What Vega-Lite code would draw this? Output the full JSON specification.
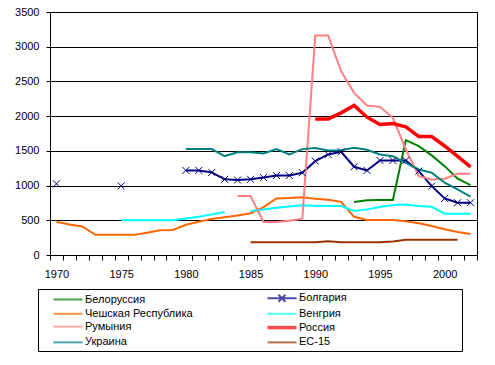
{
  "$schema": "https://vega.github.io/schema/vega-lite/v6.json",
  "width": 427,
  "height": 243,
  "autosize": {"type": "none"},
  "padding": {"left": 50, "top": 12, "right": 18, "bottom": 110},
  "background": "white",
  "config": {
    "view": {"stroke": "black", "strokeWidth": 1},
    "axis": {"labelFont": "Liberation Sans", "labelFontSize": 11, "labelColor": "black", "domainColor": "black", "tickColor": "black"},
    "legend": {"labelFont": "Liberation Sans", "labelFontSize": 11, "labelColor": "black"}
  },
  "data": {
    "values": [
      {"year": 1970, "Белоруссия": null, "Болгария": 1025, "Чешская Республика": 480, "Венгрия": null, "Румыния": null, "Россия": null, "Украина": null, "ЕС-15": null},
      {"year": 1971, "Белоруссия": null, "Болгария": null, "Чешская Республика": 440, "Венгрия": null, "Румыния": null, "Россия": null, "Украина": null, "ЕС-15": null},
      {"year": 1972, "Белоруссия": null, "Болгария": null, "Чешская Республика": 410, "Венгрия": null, "Румыния": null, "Россия": null, "Украина": null, "ЕС-15": null},
      {"year": 1973, "Белоруссия": null, "Болгария": null, "Чешская Республика": 290, "Венгрия": null, "Румыния": null, "Россия": null, "Украина": null, "ЕС-15": null},
      {"year": 1974, "Белоруссия": null, "Болгария": null, "Чешская Республика": 290, "Венгрия": null, "Румыния": null, "Россия": null, "Украина": null, "ЕС-15": null},
      {"year": 1975, "Белоруссия": null, "Болгария": 995, "Чешская Республика": 290, "Венгрия": 500, "Румыния": null, "Россия": null, "Украина": null, "ЕС-15": null},
      {"year": 1976, "Белоруссия": null, "Болгария": null, "Чешская Республика": 290, "Венгрия": 500, "Румыния": null, "Россия": null, "Украина": null, "ЕС-15": null},
      {"year": 1977, "Белоруссия": null, "Болгария": null, "Чешская Республика": 320, "Венгрия": 500, "Румыния": null, "Россия": null, "Украина": null, "ЕС-15": null},
      {"year": 1978, "Белоруссия": null, "Болгария": null, "Чешская Республика": 355, "Венгрия": 500, "Румыния": null, "Россия": null, "Украина": null, "ЕС-15": null},
      {"year": 1979, "Белоруссия": null, "Болгария": null, "Чешская Республика": 360, "Венгрия": 500, "Румыния": null, "Россия": null, "Украина": null, "ЕС-15": null},
      {"year": 1980, "Белоруссия": null, "Болгария": 1218, "Чешская Республика": 435, "Венгрия": 525, "Румыния": null, "Россия": null, "Украина": 1525, "ЕС-15": null},
      {"year": 1981, "Белоруссия": null, "Болгария": 1218, "Чешская Республика": 480, "Венгрия": 550, "Румыния": null, "Россия": null, "Украина": 1525, "ЕС-15": null},
      {"year": 1982, "Белоруссия": null, "Болгария": 1190, "Чешская Республика": 520, "Венгрия": 585, "Румыния": null, "Россия": null, "Украина": 1525, "ЕС-15": null},
      {"year": 1983, "Белоруссия": null, "Болгария": 1090, "Чешская Республика": 545, "Венгрия": 620, "Румыния": null, "Россия": null, "Украина": 1425, "ЕС-15": null},
      {"year": 1984, "Белоруссия": null, "Болгария": 1080, "Чешская Республика": 570, "Венгрия": null, "Румыния": 850, "Россия": null, "Украина": 1480, "ЕС-15": null},
      {"year": 1985, "Белоруссия": null, "Болгария": 1090, "Чешская Республика": 600, "Венгрия": 635, "Румыния": 850, "Россия": null, "Украина": 1480, "ЕС-15": 185},
      {"year": 1986, "Белоруссия": null, "Болгария": 1115, "Чешская Республика": 690, "Венгрия": 657, "Румыния": 475, "Россия": null, "Украина": 1462, "ЕС-15": 185},
      {"year": 1987, "Белоруссия": null, "Болгария": 1145, "Чешская Республика": 815, "Венгрия": 681, "Румыния": 475, "Россия": null, "Украина": 1525, "ЕС-15": 185},
      {"year": 1988, "Белоруссия": null, "Болгария": 1145, "Чешская Республика": 820, "Венгрия": 700, "Румыния": 495, "Россия": null, "Украина": 1450, "ЕС-15": 185},
      {"year": 1989, "Белоруссия": null, "Болгария": 1185, "Чешская Республика": 830, "Венгрия": 715, "Румыния": 523, "Россия": null, "Украина": 1525, "ЕС-15": 185},
      {"year": 1990, "Белоруссия": null, "Болгария": 1352, "Чешская Республика": 810, "Венгрия": 710, "Румыния": 3160, "Россия": 1960, "Украина": 1540, "ЕС-15": 185},
      {"year": 1991, "Белоруссия": null, "Болгария": 1448, "Чешская Республика": 795, "Венгрия": 705, "Румыния": 3160, "Россия": 1960, "Украина": 1506, "ЕС-15": 197},
      {"year": 1992, "Белоруссия": null, "Болгария": 1487, "Чешская Республика": 765, "Венгрия": 705, "Румыния": 2646, "Россия": 2047, "Украина": 1510, "ЕС-15": 185},
      {"year": 1993, "Белоруссия": 762, "Болгария": 1271, "Чешская Республика": 550, "Венгрия": 635, "Румыния": 2335, "Россия": 2153, "Украина": 1544, "ЕС-15": 185},
      {"year": 1994, "Белоруссия": 787, "Болгария": 1218, "Чешская Республика": 503, "Венгрия": 657, "Румыния": 2153, "Россия": 1985, "Украина": 1515, "ЕС-15": 185},
      {"year": 1995, "Белоруссия": 791, "Болгария": 1362, "Чешская Республика": 503, "Венгрия": 690, "Румыния": 2134, "Россия": 1880, "Украина": 1448, "ЕС-15": 185},
      {"year": 1996, "Белоруссия": 791, "Болгария": 1362, "Чешская Республика": 503, "Венгрия": 719, "Румыния": 1976, "Россия": 1894, "Украина": 1424, "ЕС-15": 195},
      {"year": 1997, "Белоруссия": 1654, "Болгария": 1362, "Чешская Республика": 485, "Венгрия": 729, "Румыния": 1520, "Россия": 1846, "Украина": 1328, "ЕС-15": 220},
      {"year": 1998, "Белоруссия": 1568, "Болгария": 1208, "Чешская Республика": 456, "Венгрия": 705, "Румыния": 1136, "Россия": 1705, "Украина": 1232, "ЕС-15": 220},
      {"year": 1999, "Белоруссия": 1435, "Болгария": 992, "Чешская Республика": 417, "Венгрия": 695, "Румыния": 1089, "Россия": 1705, "Украина": 1185, "ЕС-15": 220},
      {"year": 2000, "Белоруссия": 1280, "Болгария": 815, "Чешская Республика": 370, "Венгрия": 595, "Румыния": 1099, "Россия": 1570, "Украина": 1041, "ЕС-15": 220},
      {"year": 2001, "Белоруссия": 1100, "Болгария": 753, "Чешская Республика": 331, "Венгрия": 595, "Румыния": 1170, "Россия": 1420, "Украина": 945, "ЕС-15": 220},
      {"year": 2002, "Белоруссия": 1005, "Болгария": 753, "Чешская Республика": 302, "Венгрия": 595, "Румыния": 1170, "Россия": 1270, "Украина": 840, "ЕС-15": null}
    ]
  },
  "transform": [
    {"fold": ["Белоруссия", "Болгария", "Чешская Республика", "Венгрия", "Румыния", "Россия", "Украина", "ЕС-15"], "as": ["s", "v"]}
  ],
  "encoding": {
    "x": {
      "field": "year", "type": "ordinal", "bandPosition": 0.5,
      "scale": {"type": "band", "paddingInner": 0, "paddingOuter": 0},
      "axis": {"title": null, "labelExpr": "datum.value % 5 == 0 ? datum.label : ''", "labelAngle": 0, "labelOverlap": false, "tickBand": "extent", "tickSize": 5, "labelPadding": 8, "grid": false}
    },
    "y": {
      "field": "v", "type": "quantitative",
      "scale": {"domain": [0, 3500], "nice": false, "zero": true},
      "axis": {"title": null, "format": "d", "values": [0, 500, 1000, 1500, 2000, 2500, 3000, 3500], "grid": true, "gridColor": "black", "gridOpacity": 1, "tickSize": 4, "labelPadding": 7}
    }
  },
  "layer": [
    {
      "mark": {"type": "line", "invalid": "break-paths-filter-domains"},
      "encoding": {
        "color": {
          "field": "s", "type": "nominal",
          "scale": {
            "domain": ["Белоруссия", "Болгария", "Чешская Республика", "Венгрия", "Румыния", "Россия", "Украина", "ЕС-15"],
            "range": ["#008000", "#000080", "#FF6600", "#00FFFF", "#FF8080", "#FF0000", "#008080", "#993300"]
          },
          "legend": {
            "title": null, "orient": "none", "direction": "horizontal", "legendX": -12, "legendY": 277, "columns": 2,
            "strokeColor": "black", "padding": 3, "rowPadding": 1.8, "columnPadding": 62,
            "symbolOffset": 20, "labelOffset": 10, "symbolSize": 100, "labelLimit": 400,
            "labelExpr": "datum.label == 'Болгария' ? pad(datum.label, 22, '\u2800') : datum.label"
          }
        },
        "strokeWidth": {
          "field": "s", "type": "nominal",
          "scale": {
            "type": "ordinal",
            "domain": ["Белоруссия", "Болгария", "Чешская Республика", "Венгрия", "Румыния", "Россия", "Украина", "ЕС-15"],
            "range": [2, 2, 2, 2, 2, 3.5, 2, 2]
          }
        }
      }
    },
    {
      "transform": [{"filter": "datum.s == 'Болгария'"}],
      "mark": {"type": "point", "shape": "M-1,-1L1,1M-1,1L1,-1", "size": 49, "filled": false, "color": "#000080", "strokeWidth": 1, "opacity": 1}
    },
    {
      "transform": [{"filter": "false"}],
      "mark": {"type": "point", "filled": false},
      "encoding": {
        "shape": {
          "field": "s", "type": "nominal",
          "scale": {
            "domain": ["Белоруссия", "Болгария", "Чешская Республика", "Венгрия", "Румыния", "Россия", "Украина", "ЕС-15"],
            "range": ["M-2.9,0L2.9,0", "M-2.9,0L2.9,0M-0.7,-0.7L0.7,0.7M-0.7,0.7L0.7,-0.7", "M-2.9,0L2.9,0", "M-2.9,0L2.9,0", "M-2.9,0L2.9,0", "M-2.9,0L2.9,0", "M-2.9,0L2.9,0", "M-2.9,0L2.9,0"]
          }
        }
      }
    }
  ]
}
